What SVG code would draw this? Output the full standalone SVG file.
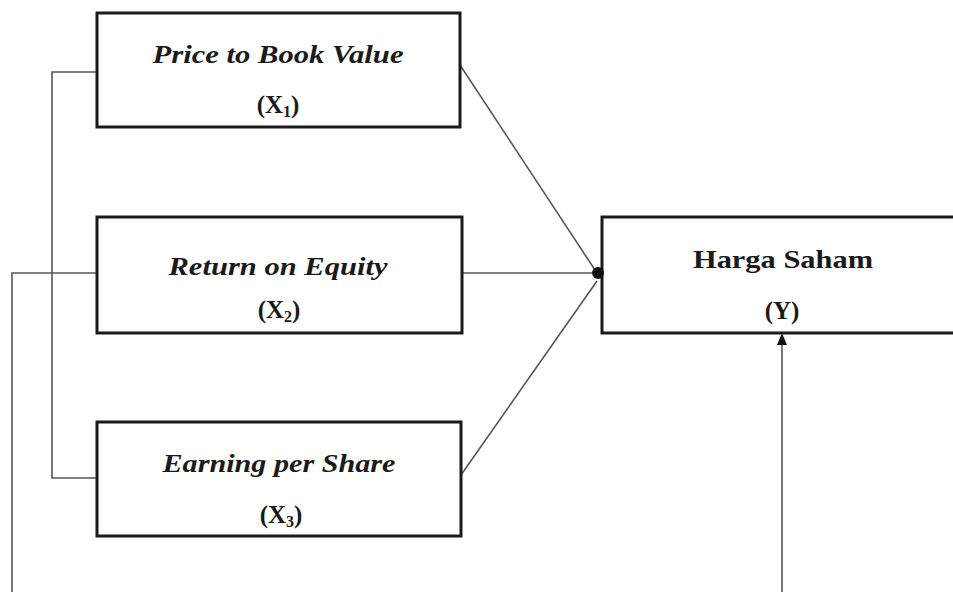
<svg xmlns="http://www.w3.org/2000/svg" width="953" height="592" viewBox="0 0 953 592">
<style>
.box{fill:#fff;stroke:#1a1a1a;stroke-width:3}
.t{font-family:"Liberation Serif","Times New Roman",serif;font-weight:bold;fill:#1a1a1a;text-anchor:middle}
.it{font-style:italic;font-size:26px}
.lab{font-size:25px}
.ln{fill:none;stroke:#555;stroke-width:1.6}
</style>
<defs>
<marker id="arr" markerWidth="12" markerHeight="10" refX="10" refY="5" viewBox="0 0 12 10" orient="auto" markerUnits="userSpaceOnUse">
<path d="M0,0 L12,5 L0,10 Z" fill="#111"/>
</marker>
</defs>
<rect width="953" height="592" fill="#fff"/>
<g id="connectors">
<polyline class="ln" points="97,72 52,72 52,478 97,478"/>
<polyline class="ln" points="97,273 12,273 12,592"/>
<line class="ln" x1="460" y1="65" x2="597" y2="273"/>
<line class="ln" x1="462" y1="273" x2="597" y2="273"/>
<line class="ln" x1="461" y1="475" x2="597" y2="281"/>
<line class="ln" x1="782" y1="592" x2="782" y2="335" marker-end="url(#arr)"/>
</g>
<g id="x1">
<rect class="box" x="97" y="13" width="363" height="114"/>
<text class="t it" x="278" y="63" textLength="251" lengthAdjust="spacingAndGlyphs">Price to Book Value</text>
<text class="t lab" x="278" y="113">(X<tspan font-size="16" dy="4">1</tspan><tspan dy="-4">)</tspan></text>
</g>
<g id="x2">
<rect class="box" x="97" y="217" width="365" height="116"/>
<text class="t it" x="278" y="275" textLength="219" lengthAdjust="spacingAndGlyphs">Return on Equity</text>
<text class="t lab" x="279" y="318">(X<tspan font-size="16" dy="4">2</tspan><tspan dy="-4">)</tspan></text>
</g>
<g id="x3">
<rect class="box" x="97" y="422" width="364" height="114"/>
<text class="t it" x="279" y="472" textLength="233" lengthAdjust="spacingAndGlyphs">Earning per Share</text>
<text class="t lab" x="281" y="523">(X<tspan font-size="16" dy="4">3</tspan><tspan dy="-4">)</tspan></text>
</g>
<g id="y">
<rect class="box" x="602" y="217" width="370" height="116"/>
<text class="t" font-size="26" x="783" y="268" textLength="180" lengthAdjust="spacingAndGlyphs">Harga Saham</text>
<text class="t lab" x="782" y="319">(Y)</text>
<circle cx="598" cy="273" r="6" fill="#111"/>
</g>
</svg>
